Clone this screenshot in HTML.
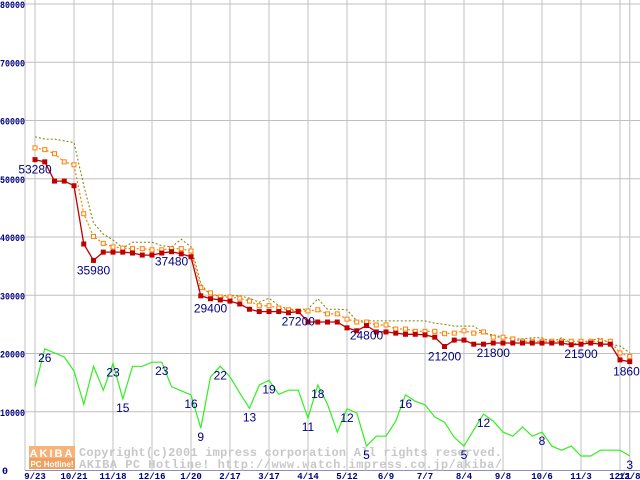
<!DOCTYPE html>
<html><head><meta charset="utf-8"><style>
html,body{margin:0;padding:0;background:#fff;width:640px;height:480px;overflow:hidden}
svg{display:block}
</style></head><body>
<svg id="chart" width="640" height="480" xmlns="http://www.w3.org/2000/svg">
<g id="grid"></g>
<g id="watermark">
  <rect x="29" y="446" width="46" height="12" fill="#f7b27a"/>
  <rect x="29" y="458" width="46" height="11" fill="#f0a060"/>
  <text x="52" y="457" text-anchor="middle" font-family="Liberation Sans, sans-serif" font-weight="bold" font-size="11" fill="#fff" letter-spacing="2">AKIBA</text>
  <text x="52" y="467" text-anchor="middle" font-family="Liberation Sans, sans-serif" font-weight="bold" font-size="8" fill="#fff">PC Hotline!</text>
  <text x="79" y="456" font-family="Liberation Mono, monospace" font-weight="bold" font-size="12" fill="#c8c8c8" textLength="423" lengthAdjust="spacing">Copyright(c)2001 impress corporation All rights reserved.</text>
  <text x="79" y="468" font-family="Liberation Mono, monospace" font-weight="bold" font-size="12" fill="#c8c8c8" textLength="423" lengthAdjust="spacing">AKIBA PC Hotline!  http://www.watch.impress.co.jp/akiba/</text>
</g>
<g id="series"></g>
<g id="labels"></g>
</svg>
<script>
const xTickLabels = ["9/23","10/21","11/18","12/16","1/20","2/17","3/17","4/14","5/12","6/9","7/7","8/4","9/8","10/6","11/3","12/1","12/8"];
const xTickIdx = [0,4,8,12,16,20,24,28,32,36,40,44,48,52,56,60,61];
const yTicks = [0,10000,20000,30000,40000,50000,60000,70000,80000];
const minPrice = [53280,52900,49600,49600,48800,38800,35980,37400,37400,37400,37250,36900,36900,37250,37480,37100,36600,29900,29400,29200,29000,28500,27600,27200,27200,27200,27000,27200,25400,25400,25400,25400,24400,23900,24800,23700,23700,23500,23300,23300,23200,22800,21200,22300,22300,21600,21600,21800,21800,21800,21800,21800,21800,21800,21800,21500,21600,21800,21600,21600,18900,18600];
const avgPrice = [55300,55000,54300,52900,52400,44000,40100,38900,38300,38100,38000,38000,37800,37800,38000,38000,37600,31300,30400,29700,29700,29500,29000,28200,28200,27800,27500,27300,27300,27500,26800,26800,25900,25400,25400,24900,24900,24200,24200,23800,23800,23800,23400,23500,23900,23500,23700,22800,22800,22500,22100,22100,22100,22100,22100,22100,22100,22100,22100,22100,20100,19500];
const maxPrice = [57200,56800,56800,56500,56200,48800,42400,40500,39500,38100,39100,39100,39100,38500,38300,39600,38300,32000,29900,29900,29900,29900,29500,28800,29500,28200,27600,27600,27600,29400,27600,27600,27500,25600,25600,25600,25600,25600,25600,25600,25600,25200,25000,24700,24700,24700,23500,23200,22800,22500,22500,22700,22700,22000,22700,21800,21600,22200,22700,21600,21300,20100];
const countLine = [14300,20800,20100,19400,17000,11300,17800,13700,18300,12200,17800,17800,18500,18500,14300,13600,12900,7200,16000,17800,16000,13200,10600,14600,15400,13000,13700,13700,8900,14600,11300,6500,10500,9800,4100,5800,5800,8400,12900,11800,11200,9100,8200,5600,4100,6900,9600,8400,6500,5800,7400,5800,6500,4100,3400,4100,2400,2400,3400,3400,3400,2400];
const priceNotes = [[0,"53280"],[6,"35980"],[14,"37480"],[18,"29400"],[27,"27200"],[34,"24800"],[42,"21200"],[47,"21800"],[56,"21500"],[61,"18600"]];
const countNotes = [[1,"26"],[8,"23"],[9,"15"],[13,"23"],[16,"16"],[17,"9"],[19,"22"],[22,"13"],[24,"19"],[28,"11"],[29,"18"],[32,"12"],[34,"5"],[38,"16"],[44,"5"],[46,"12"],[52,"8"],[61,"3"]];

const NS="http://www.w3.org/2000/svg";
function X(i){return 35+i*9.75;}
function Y(v){return 470-v*58.25/10000;}
function mk(tag,attrs,parent){const e=document.createElementNS(NS,tag);for(const k in attrs)e.setAttribute(k,attrs[k]);parent.appendChild(e);return e;}
const grid=document.getElementById('grid'),ser=document.getElementById('series'),lab=document.getElementById('labels');

yTicks.forEach(v=>{
  if(v>0){const l=mk('line',{x1:25,x2:640,y1:Y(v),y2:Y(v),stroke:'#c0c0c0','stroke-width':1},grid);
  
  }
  const attrs={x:v==0?2:0,y:Y(v)+4,'font-family':'Liberation Mono, monospace','font-weight':'bold','font-size':'10',fill:'#000080'};
  if(v>0){attrs.textLength=25;attrs.lengthAdjust='spacingAndGlyphs';}
  const t=mk('text',attrs,lab);
  t.textContent=v;
  
  
});
xTickIdx.forEach((i,k)=>{
  const l=mk('line',{x1:X(i),x2:X(i),y1:0,y2:470,stroke:'#c0c0c0','stroke-width':1},grid);
  
  
  const t=mk('text',{x:X(i),y:479,'text-anchor':'middle','font-family':'Liberation Mono, monospace','font-weight':'bold','font-size':'9',fill:'#000080'},lab);
  t.textContent=xTickLabels[k];
  
  
});
const ax=mk('line',{x1:25,x2:25,y1:0,y2:470,stroke:'#c0c0c0','stroke-width':1},grid);


const bx=mk('line',{x1:25,x2:640,y1:470.5,y2:470.5,stroke:'#9090c0','stroke-width':1},grid);



function pts(arr){return arr.map((v,i)=>X(i).toFixed(1)+','+Y(v).toFixed(1)).join(' ');}
let p=mk('polyline',{points:pts(countLine),fill:'none',stroke:'#33ee22','stroke-width':1.2},ser);


p=mk('polyline',{points:pts(maxPrice),fill:'none',stroke:'#808000','stroke-width':1,'stroke-dasharray':'2,2'},ser);


p=mk('polyline',{points:pts(avgPrice),fill:'none',stroke:'#ff8000','stroke-width':1.2,'stroke-dasharray':'2,2'},ser);


avgPrice.forEach((v,i)=>{const r=mk('rect',{x:X(i)-2,y:Y(v)-2,width:4,height:4,fill:'#fff',stroke:'#ff8000','stroke-width':1},ser);
  
  });
p=mk('polyline',{points:pts(minPrice),fill:'none',stroke:'#c00000','stroke-width':1.3},ser);


minPrice.forEach((v,i)=>{const r=mk('rect',{x:X(i)-2.5,y:Y(v)-2.5,width:5,height:5,fill:'#c00000'},ser);
  
  });

priceNotes.forEach(([i,s])=>{
  const t=mk('text',{x:X(i),y:Y(minPrice[i])+14,'text-anchor':'middle','font-family':'Liberation Sans, sans-serif','font-size':'12',fill:'#000080'},lab);
  t.textContent=s;
  
  
});
countNotes.forEach(([i,s])=>{
  const t=mk('text',{x:X(i),y:Y(countLine[i])+13,'text-anchor':'middle','font-family':'Liberation Sans, sans-serif','font-size':'12',fill:'#000080'},lab);
  t.textContent=s;
  
  
});
</script>
</body></html>
